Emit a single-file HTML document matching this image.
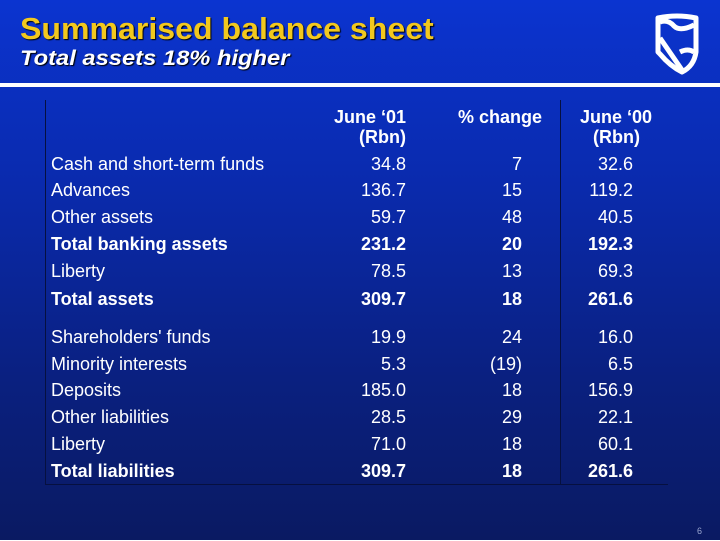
<!DOCTYPE html>
<html><head><meta charset="utf-8"><style>
body{margin:0;width:720px;height:540px;overflow:hidden;font-family:"Liberation Sans",sans-serif;}
#slide{position:relative;width:720px;height:540px;background:linear-gradient(180deg,#0b34d0 0%,#0a2aac 35%,#0a2080 70%,#0a1a62 100%);}
.t{position:absolute;color:#fff;font-size:18px;white-space:nowrap;line-height:20px}
.r{text-align:right}
.b{font-weight:bold}
</style></head><body>
<div id="slide">
<div class="t b" style="left:20px;top:11px;font-size:31px;line-height:36px;color:#f2c81e;text-shadow:1px 1px 1px #000;transform:scaleX(1.035);transform-origin:left">Summarised balance sheet</div>
<div class="t b" style="left:20px;top:47px;font-size:21px;line-height:24px;font-style:italic;text-shadow:1px 1px 1px #000;transform:scaleX(1.13);transform-origin:left">Total assets 18% higher</div>
<svg style="position:absolute;left:652px;top:12px" width="50" height="64" viewBox="0 0 50 64">
<path d="M6 6 Q25 2 44 6 L44 40 Q42 54 30 60 Q18 54 8 42 L6 40 Z" fill="none" stroke="#fff" stroke-width="5" stroke-linejoin="round"/>
<path d="M8 10 Q16 7 22 14 Q28 20 42 13" fill="none" stroke="#fff" stroke-width="5"/>
<path d="M8 26 L30 58" stroke="#fff" stroke-width="5"/>
<path d="M28 40 Q36 36 42 40" fill="none" stroke="#fff" stroke-width="5"/>
</svg>
<div style="position:absolute;left:0;top:83px;width:720px;height:4px;background:#fff"></div>
<div style="position:absolute;left:45px;top:100px;width:1px;height:385px;background:#061040"></div>
<div style="position:absolute;left:45px;top:484px;width:623px;height:1px;background:#061040"></div>
<div style="position:absolute;left:560px;top:100px;width:1px;height:385px;background:#061040"></div>
<div id="tbl"></div>
</div>
<script>
const labels=["Cash and short-term funds","Advances","Other assets","Total banking assets","Liberty","Total assets","Shareholders' funds","Minority interests","Deposits","Other liabilities","Liberty","Total liabilities"];
const june01=["34.8","136.7","59.7","231.2","78.5","309.7","19.9","5.3","185.0","28.5","71.0","309.7"];
const change=["7","15","48","20","13","18","24","(19)","18","29","18","18"];
const june00=["32.6","119.2","40.5","192.3","69.3","261.6","16.0","6.5","156.9","22.1","60.1","261.6"];
const bold=[false,false,false,true,false,true,false,false,false,false,false,true];
const rowY=[154,180,207,234,261,289,327,354,380,407,434,461];
const s=document.getElementById('slide');
function add(txt,left,top,right,cls,name){
 const d=document.createElement('div');
 d.className='t '+cls;
 d.textContent=txt;
 d.style.top=top+'px';
 if(right){d.style.right=(720-left)+'px';}else d.style.left=left+'px';
 
 
 s.appendChild(d);
}
add("June \u201801",406,107,true,'b r','header-june01');
add("(Rbn)",406,127,true,'b r','header-june01-unit');
add("% change",542,107,true,'b r','header-change');
add("June \u201800",652,107,true,'b r','header-june00');
add("(Rbn)",640,127,true,'b r','header-june00-unit');
for(let i=0;i<labels.length;i++){
 const c=bold[i]?'b':'';
 add(labels[i],51,rowY[i],false,c,'row-label');
 add(june01[i],406,rowY[i],true,c+' r','june01-value');
 add(change[i],522,rowY[i],true,c+' r','change-value');
 add(june00[i],633,rowY[i],true,c+' r','june00-value');
}
add("6",697,521,false,'','page-number');
s.lastChild.style.fontSize='9px';
s.lastChild.style.color='#9aa6d0';
</script>
</body></html>
